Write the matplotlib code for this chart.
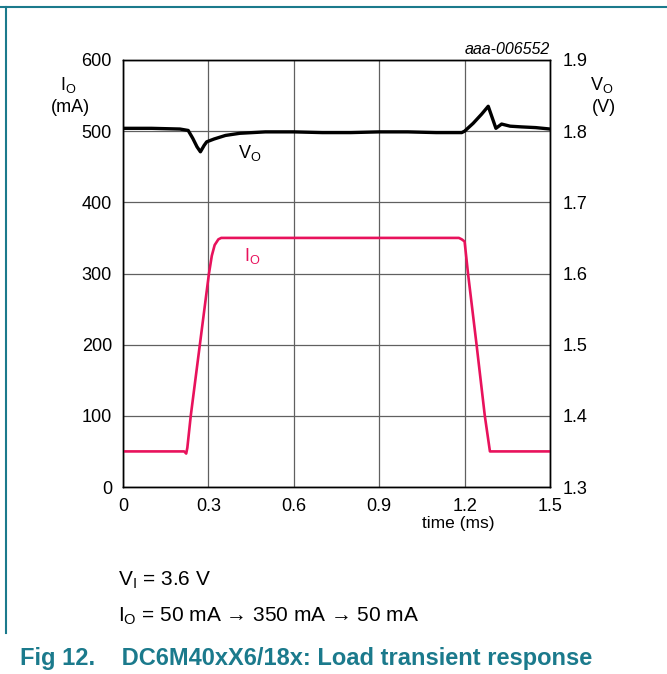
import matplotlib
matplotlib.use("Agg")
import matplotlib.pyplot as plt
from matplotlib.lines import Line2D

plt.rcParams['font.family'] = ['Liberation Sans', 'DejaVu Sans']
plt.rcParams['mathtext.fontset'] = 'custom'
plt.rcParams['mathtext.rm'] = 'Liberation Sans'

# ---- data ----
io_time = [0.0, 0.215, 0.222, 0.226, 0.238, 0.27, 0.302, 0.312, 0.322, 0.335, 0.345,
           1.18, 1.19, 1.2, 1.212, 1.242, 1.271, 1.289, 1.5]
io_ma = [50, 50, 47, 55, 100, 200, 300, 325, 340, 348, 350,
         350, 348, 345, 300, 200, 100, 50, 50]

vo_time = [0.0, 0.1, 0.2, 0.229, 0.245, 0.26, 0.272, 0.285, 0.294, 0.32, 0.36, 0.41,
           0.5, 0.6, 0.7, 0.8, 0.9, 1.0, 1.1, 1.19, 1.2, 1.23, 1.26, 1.283, 1.31,
           1.33, 1.36, 1.4, 1.45, 1.5]
vo_v = [1.804, 1.804, 1.803, 1.801, 1.790, 1.778, 1.771, 1.780, 1.785, 1.789, 1.794, 1.797,
        1.799, 1.799, 1.798, 1.798, 1.799, 1.799, 1.798, 1.798, 1.800, 1.811, 1.824, 1.835, 1.804,
        1.810, 1.807, 1.806, 1.805, 1.803]

x_ticks = [0, 0.3, 0.6, 0.9, 1.2, 1.5]
x_labels = ["0", "0.3", "0.6", "0.9", "1.2", "1.5"]
io_ticks = [0, 100, 200, 300, 400, 500, 600]
vo_ticks = [1.3, 1.4, 1.5, 1.6, 1.7, 1.8, 1.9]

TEAL = '#1b7a8c'
PINK = '#e8125c'
W, H = 667, 674
FS = 13

fig = plt.figure(figsize=(W / 100, H / 100), dpi=100)
ax = fig.add_axes([123 / W, 1 - 487 / H, (550 - 123) / W, (487 - 60) / H])
ax2 = ax.twinx()

ax.set_xlim(0, 1.5)
ax.set_ylim(0, 600)
ax2.set_ylim(1.3, 1.9)

ax.set_xticks(x_ticks)
ax.set_xticklabels(x_labels)
ax.set_yticks(io_ticks)
ax.set_yticklabels([str(v) for v in io_ticks])
ax2.set_yticks(vo_ticks)
ax2.set_yticklabels([f"{v:.1f}" for v in vo_ticks])

ax.grid(True, color='#606060', lw=0.9)
ax.set_axisbelow(True)
for a in (ax, ax2):
    a.tick_params(length=0, labelsize=FS, colors='black')
    for s in a.spines.values():
        s.set_linewidth(1.0)
        s.set_color('black')
ax.tick_params(axis='y', pad=8)
ax.tick_params(axis='x', pad=8)
ax2.tick_params(axis='y', pad=9)

ax.plot(io_time, io_ma, color=PINK, lw=1.9, solid_joinstyle='round', zorder=3)
ax2.plot(vo_time, vo_v, color='black', lw=2.4, solid_joinstyle='round', zorder=3)

# in-plot labels
ax.text(0.404, 470, r'$\mathregular{V_O}$', fontsize=FS, color='black', ha='left', va='center')
ax.text(0.425, 324, r'$\mathregular{I_O}$', fontsize=FS, color=PINK, ha='left', va='center')

# axis labels
fig.text(68 / W, 1 - 85 / H, r'$\mathregular{I_O}$', fontsize=FS, ha='center', va='center')
fig.text(70 / W, 1 - 107 / H, '(mA)', fontsize=FS, ha='center', va='center')
fig.text(602 / W, 1 - 85 / H, r'$\mathregular{V_O}$', fontsize=FS, ha='center', va='center')
fig.text(604 / W, 1 - 107 / H, '(V)', fontsize=FS, ha='center', va='center')
fig.text(458 / W, 1 - 516 / H, 'time (ms)', fontsize=12.5, ha='center', va='top')
fig.text(550 / W, 1 - 50 / H, 'aaa-006552', fontsize=11.5, style='italic', ha='right', va='center')

# conditions text
fig.text(118 / W, 1 - 580 / H, r'$\mathregular{V_I}$ = 3.6 V', fontsize=15, ha='left', va='center')
fig.text(118 / W, 1 - 616 / H, r'$\mathregular{I_O}$ = 50 mA → 350 mA → 50 mA',
         fontsize=15, ha='left', va='center')

# title
fig.text(20 / W, 1 - 659 / H, 'Fig 12.    DC6M40xX6/18x: Load transient response',
         fontsize=17, fontweight='bold', color=TEAL, ha='left', va='center')

# frame lines
fig.add_artist(Line2D([0, 1], [1 - 7 / H, 1 - 7 / H], transform=fig.transFigure, color=TEAL, lw=1.5))
fig.add_artist(Line2D([6 / W, 6 / W], [1 - 7 / H, 1 - 633 / H], transform=fig.transFigure, color=TEAL, lw=1.5))

fig.savefig('out.png', dpi=100)
